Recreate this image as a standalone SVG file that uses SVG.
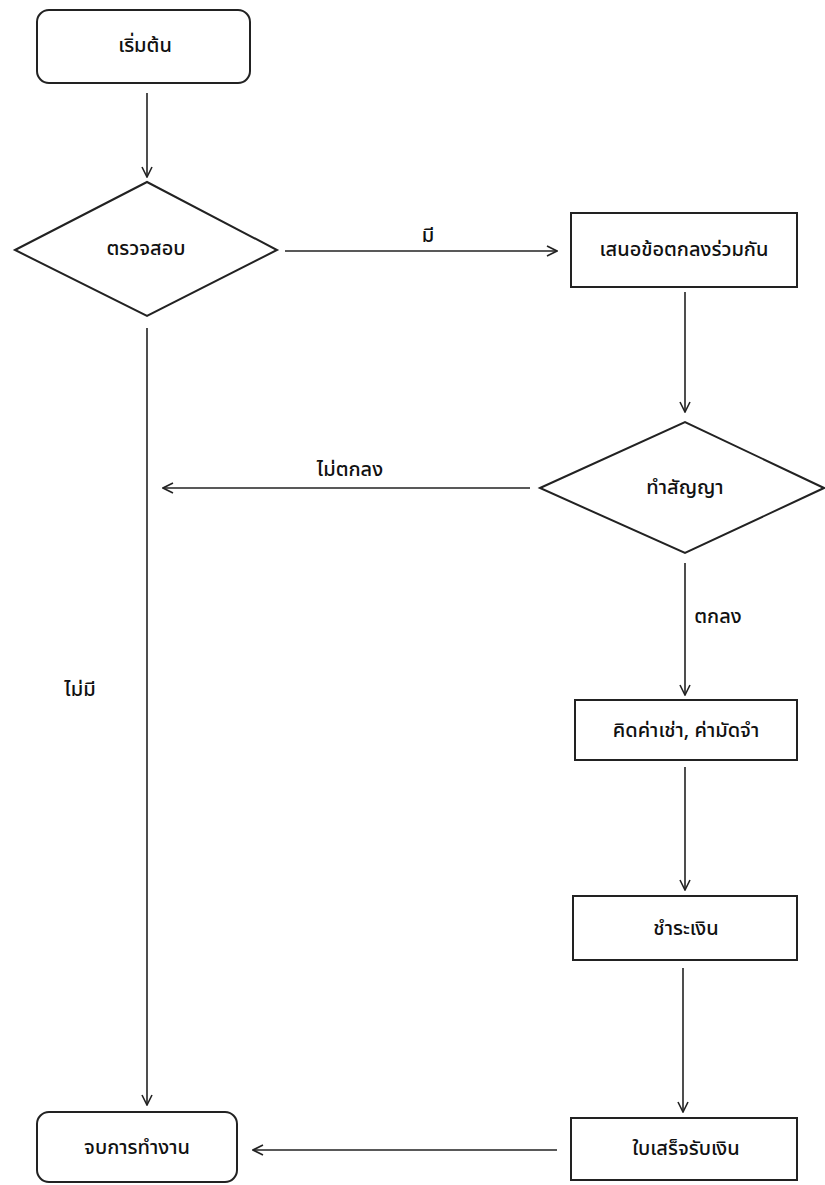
<svg xmlns="http://www.w3.org/2000/svg" width="825" height="1185" viewBox="0 0 825 1185">
<style>
.shape{fill:#fff;stroke:#222;stroke-width:2}
.conn{fill:none;stroke:#222;stroke-width:1.6;marker-end:url(#arr)}
text{font-family:"Noto Sans Thai","Tahoma","DejaVu Sans","Noto Sans",sans-serif;font-size:20px;font-weight:500;fill:#111;text-anchor:middle;dominant-baseline:central}
</style>
<defs>
<marker id="arr" viewBox="0 0 12 12" refX="11" refY="6" markerWidth="12" markerHeight="12" markerUnits="userSpaceOnUse" orient="auto">
<path d="M1,1 L11,6 L1,11" fill="none" stroke="#222" stroke-width="1.6"/>
</marker>
</defs>
<rect width="825" height="1185" fill="#fff"/>
<g id="connectors">
<line class="conn" x1="147" y1="93" x2="147" y2="177"/>
<line class="conn" x1="285" y1="251" x2="557" y2="251"/>
<line class="conn" x1="685" y1="292" x2="685" y2="412"/>
<line class="conn" x1="530" y1="488" x2="163" y2="488"/>
<line class="conn" x1="685" y1="563" x2="685" y2="695"/>
<line class="conn" x1="685" y1="767" x2="685" y2="890"/>
<line class="conn" x1="683" y1="968" x2="683" y2="1112"/>
<line class="conn" x1="557" y1="1150" x2="253" y2="1150"/>
<line class="conn" x1="147" y1="328" x2="147" y2="1105"/>
<text x="428" y="236">มี</text>
<text x="350" y="470">ไม่ตกลง</text>
<text x="718" y="617">ตกลง</text>
<text x="80" y="690">ไม่มี</text>
</g>
<g id="start">
<rect class="shape" x="37" y="10" width="213" height="73" rx="12"/>
<text x="145" y="46">เริ่มต้น</text>
</g>
<g id="check">
<polygon class="shape" points="15,250 147,182 277,250 147,316"/>
<text x="146" y="249">ตรวจสอบ</text>
</g>
<g id="propose">
<rect class="shape" x="571" y="213" width="226" height="74"/>
<text x="684" y="250">เสนอข้อตกลงร่วมกัน</text>
</g>
<g id="contract">
<polygon class="shape" points="540,488 685,422 824,488 685,553"/>
<text x="685" y="488">ทำสัญญา</text>
</g>
<g id="calc">
<rect class="shape" x="575" y="700" width="222" height="60"/>
<text x="686" y="731">คิดค่าเช่า, ค่ามัดจำ</text>
</g>
<g id="pay">
<rect class="shape" x="573" y="896" width="224" height="64"/>
<text x="686" y="929">ชำระเงิน</text>
</g>
<g id="receipt">
<rect class="shape" x="571" y="1118" width="226" height="62"/>
<text x="686" y="1149">ใบเสร็จรับเงิน</text>
</g>
<g id="end">
<rect class="shape" x="37" y="1112" width="200" height="70" rx="12"/>
<text x="137" y="1148">จบการทำงาน</text>
</g>
</svg>
